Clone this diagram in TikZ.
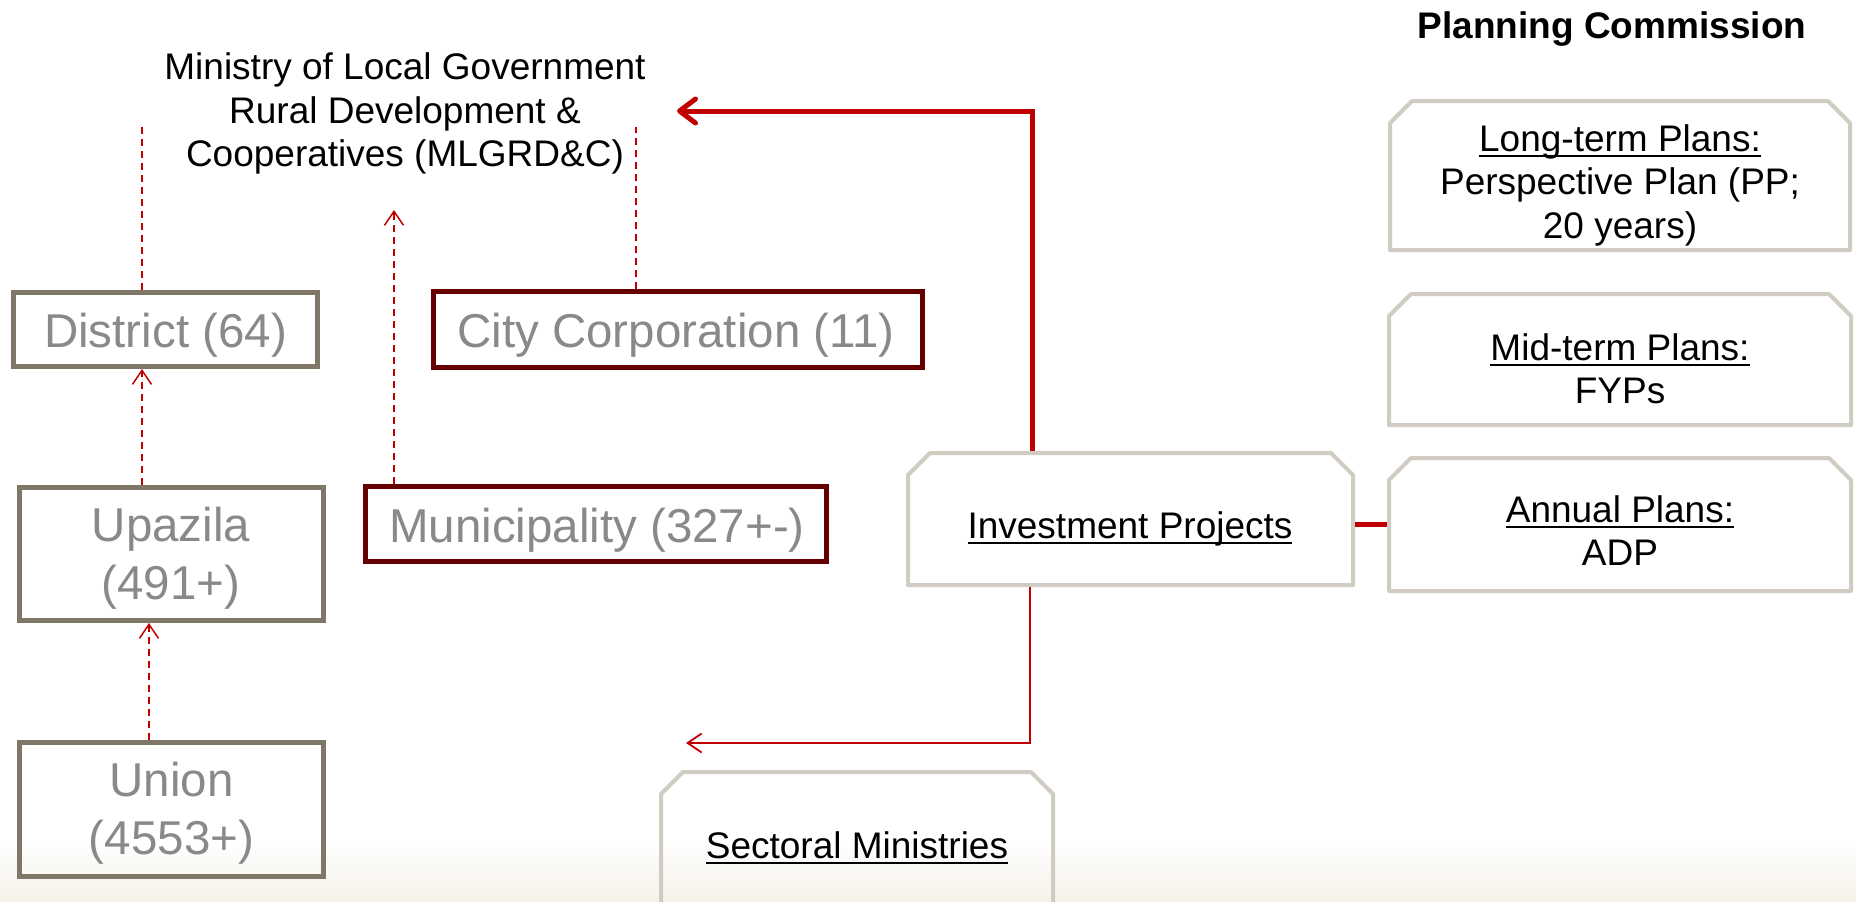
\documentclass[tikz,border=0pt]{standalone}
\usepackage{fontspec}
\setmainfont{Liberation Sans}
\usetikzlibrary{arrows.meta}
\definecolor{boxgray}{RGB}{127,119,104}
\definecolor{boxred}{RGB}{102,0,0}
\definecolor{textgray}{RGB}{137,137,137}
\definecolor{planline}{RGB}{208,204,193}
\definecolor{linkred}{RGB}{192,0,0}
\definecolor{floorbeige}{RGB}{245,241,233}
\newcommand{\planuline}[1]{\setbox0\hbox{#1}\rlap{\rule[-5.5pt]{\wd0}{1.8pt}}\box0}
\begin{document}
\begin{tikzpicture}[x=1pt,y=1pt]
    \tikzstyle{every node}+=[inner sep=0pt]
    \tikzstyle{levelbox}=[draw=boxgray,line width=5pt,minimum width=304pt]
    \tikzstyle{urbanbox}=[draw=boxred,line width=5pt]
    \tikzstyle{planbox}=[rectangle,outer sep=0pt]
    \tikzstyle{planedge}=[planline,line width=4pt,line join=round]
    \tikzstyle{graytext}=[text=textgray,font=\fontsize{47.5}{58}\selectfont,align=center]
    \tikzstyle{blacktext}=[font=\fontsize{37}{43.5}\selectfont,align=center]
    \tikzstyle{dashlink}=[linkred,line width=1.5pt,dash pattern=on 7pt off 5pt]
    \tikzstyle{thinlink}=[linkred,line width=1.8pt]
    \tikzstyle{boldlink}=[linkred,line width=5pt]
    \tikzstyle{thinhead}=[-{Straight Barb[length=14pt,width=19pt]}]
    \useasboundingbox (0,0) rectangle (1856,-902);
    \clip (0,0) rectangle (1856,-902);
    \fill [white] (0,0) rectangle (1856,-902);
    \shade [top color=white,bottom color=floorbeige] (0,-840) rectangle (1856,-902);
    \node [blacktext,font={\fontsize{37}{43.5}\selectfont\bfseries},anchor=base] (planning) at (1612,-38) {Planning Commission};
    \node [blacktext] (ministry) at (405,-113.5) {Ministry of Local Government\\Rural Development \&\\Cooperatives (MLGRD\&C)};
    \node [levelbox,minimum height=74pt] (district) at (165.5,-329.5) {};
    \node [graytext,anchor=base] (districttext) at (165.5,-347) {District (64)};
    \node [urbanbox,minimum width=489pt,minimum height=76pt] (citycorp) at (678,-329.5) {};
    \node [graytext,anchor=base] (citycorptext) at (676,-347) {City Corporation (11)};
    \node [levelbox,minimum height=133pt] (upazila) at (171.5,-554) {};
    \node [graytext] (upazilatext) at (171,-558.7) {Upazila\\(491+)};
    \node [urbanbox,minimum width=461pt,minimum height=75pt] (municipality) at (596,-524) {};
    \node [graytext,anchor=base] (municipalitytext) at (597,-542) {Municipality (327+-)};
    \node [levelbox,minimum height=134pt] (union) at (171.5,-809.5) {};
    \node [graytext] (uniontext) at (171.5,-813) {Union\\(4553+)};
    \node [planbox,minimum width=445pt,minimum height=132pt] (invest) at (1130.5,-519) {};
    \node [blacktext,anchor=base] (investtext) at (1130,-538) {\planuline{Investment Projects}};
    \node [planbox,minimum width=392pt,minimum height=132pt] (sectoral) at (857,-838) {};
    \node [blacktext,anchor=base] (sectoraltext) at (857,-858) {\planuline{Sectoral Ministries}};
    \node [planbox,minimum width=460pt,minimum height=149pt] (longterm) at (1620,-175.5) {};
    \node [blacktext] (longtermtext) at (1620,-185) {\planuline{Long-term Plans:}\\Perspective Plan (PP;\\20 years)};
    \node [planbox,minimum width=462pt,minimum height=131pt] (midterm) at (1620,-359.5) {};
    \node [blacktext] (midtermtext) at (1620,-369) {\planuline{Mid-term Plans:}\\FYPs};
    \node [planbox,minimum width=462pt,minimum height=133pt] (annual) at (1620,-524.5) {};
    \node [blacktext] (annualtext) at (1620,-530.5) {\planuline{Annual Plans:}\\ADP};
    \foreach \plan in {invest,sectoral,longterm,midterm,annual}
        \draw [planedge] (\plan.south west) -- ([yshift=-22pt]\plan.north west) -- ([xshift=22pt]\plan.north west) -- ([xshift=-22pt]\plan.north east) -- ([yshift=-22pt]\plan.north east) -- (\plan.south east) -- cycle;
    \coordinate (distend) at (142,-127);
    \coordinate (cityend) at (636,-127);
    \coordinate (muniend) at (394,-210);
    \coordinate (ministurn) at (1032,-111);
    \coordinate (ministip) at (677,-111);
    \coordinate (sectturn) at (1030,-743);
    \coordinate (secttip) at (686,-743);
    \draw [dashlink] (district.north -| distend) -- (distend);
    \draw [dashlink] (citycorp.north -| cityend) -- (cityend);
    \draw [dashlink,thinhead] (municipality.north -| muniend) -- (muniend);
    \draw [dashlink,thinhead] (upazila.north -| distend) -- (district.south -| distend);
    \draw [dashlink,thinhead] ([xshift=-22.5pt]union.north) -- ([xshift=-22.5pt]upazila.south);
    \draw [boldlink,-{Straight Barb[length=16pt,width=24pt,round]}] ([yshift=2pt]invest.north -| ministurn) -- (ministurn) -- (ministip);
    \draw [boldlink] ([xshift=2pt]annual.west -| invest.east) -- ([xshift=-2pt]annual.west);
    \draw [thinlink,thinhead] ([yshift=-2pt]invest.south -| sectturn) -- (sectturn) -- (secttip);
\end{tikzpicture}
\end{document}
